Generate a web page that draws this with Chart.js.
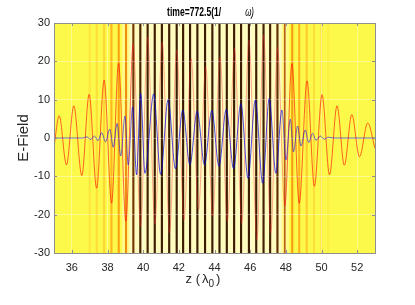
<!DOCTYPE html>
<html>
<head>
<meta charset="utf-8">
<script src="https://cdn.jsdelivr.net/npm/chart.js@4"></script>
<style>
  html, body { margin: 0; padding: 0; background: #fff; }
  #wrap { width: 415px; height: 305px; }
</style>
</head>
<body>
<div id="wrap"><canvas id="chart" width="415" height="305"></canvas></div>
<script>
// axis ticks
const xTicks = [36, 38, 40, 42, 44, 46, 48, 50, 52]
const yTicks = [-30, -20, -10, 0, 10, 20, 30]

// red field: extrema
const redX = [35.00, 35.29, 35.70, 36.11, 36.56, 36.97, 37.39, 37.81, 38.23, 38.62,
  39.03, 39.44, 39.86, 40.25, 40.66, 41.07, 41.48, 41.88, 42.29, 42.69,
  43.10, 43.51, 43.90, 44.31, 44.72, 45.12, 45.53, 45.93, 46.38, 46.75,
  47.16, 47.53, 47.94, 48.34, 48.75, 49.19, 49.60, 50.03, 50.45, 50.87,
  51.28, 51.70, 52.13, 52.59, 53.00]
const redY = [-2.3, 5.8, -7.0, 8.4, -9.8, 11.4, -13.1, 15.1, -17.0, 19.5,
  -21.7, 24.5, -23.0, 26.3, -22.5, 25.0, -24.7, 22.9, -21.3, 20.7,
  -18.7, 18.5, -20.4, 21.1, -21.7, 23.4, -22.2, 25.5, -26.5, 26.8,
  -24.7, 23.7, -17.8, 19.4, -17.0, 14.9, -12.6, 11.3, -9.6, 8.4,
  -7.1, 6.1, -4.9, 3.9, -2.7]

// blue field
const blueX = [35.00, 36.60, 36.85, 37.05, 37.27, 37.47, 37.67, 37.89, 38.13, 38.32,
  38.54, 38.74, 38.98, 39.16, 39.41, 39.63, 39.86, 40.10, 40.59, 40.98,
  41.40, 41.81, 42.22, 42.62, 43.03, 43.44, 43.85, 44.25, 44.66, 45.07,
  45.48, 45.88, 46.29, 46.70, 47.07, 47.44, 47.78, 48.01, 48.25, 48.43,
  48.66, 48.85, 49.09, 49.28, 49.50, 49.69, 49.93, 50.16, 50.38, 50.70, 53.00]
const blueY = [0, 0, 0.3, -0.4, 0.5, -0.7, 1.4, -1.0, 2.3, -2.4,
  3.8, -4.7, 5.7, -7.0, 8.1, -9.6, 11.6, -9.2, 11.5, -9.5,
  10.0, -8.0, 7.3, -7.0, 7.0, -7.0, 7.2, -7.4, 7.5, -8.0,
  9.0, -10.5, 9.9, -11.8, 10.3, -9.2, 7.3, -5.7, 4.9, -3.6,
  3.1, -2.1, 2.1, -1.2, 1.2, -0.6, 0.5, -0.3, 0.2, 0, 0]

// background density: bands (start, end, level 0..1)
const bandStart = [35.0, 38.85, 39.25, 47.75, 48.15]
const bandEnd = [38.85, 39.25, 47.75, 48.15, 53.0]
const bandLevel = [0.78, 0.86, 0.97, 0.86, 0.78]

// density minima (stripes): centre and level
const stripeX = [37.00, 37.40, 37.81, 38.22, 38.63, 39.04, 39.45, 39.84, 40.25, 40.65,
  41.05, 41.46, 41.88, 42.24, 42.63, 43.04, 43.47, 43.88, 44.28, 44.69,
  45.10, 45.49, 45.93, 46.34, 46.75, 47.12, 47.53, 47.95, 48.36, 48.75,
  49.17, 49.58, 49.99, 50.38]
const stripeLevel = [0.74, 0.72, 0.70, 0.63, 0.58, 0.52, 0.24, 0.10, 0.08, 0.07,
  0.07, 0.07, 0.06, 0.06, 0.06, 0.06, 0.06, 0.06, 0.06, 0.06,
  0.07, 0.07, 0.07, 0.07, 0.08, 0.10, 0.18, 0.38, 0.56, 0.62,
  0.68, 0.72, 0.74, 0.76]

const stops = [
  [0.00, [40, 18, 0]],
  [0.25, [120, 55, 5]],
  [0.45, [225, 120, 10]],
  [0.60, [255, 170, 20]],
  [0.78, [252, 249, 75]],
  [0.88, [254, 251, 150]],
  [1.00, [255, 252, 205]]
]
function levelColor(v) {
  for (let i = 1; i < stops.length; i++) {
    if (v <= stops[i][0]) {
      const [a, ca] = stops[i - 1]
      const [b, cb] = stops[i]
      const t = (v - a) / (b - a)
      const c = ca.map((k, j) => Math.round(k + (cb[j] - k) * t))
      return 'rgb(' + c.join(',') + ')'
    }
  }
  return 'rgb(255,252,205)'
}

const SANS = "'Liberation Sans', Arial, sans-serif"
const STRIPE_W = 0.12
const inPlasma = x => x > bandStart[2] && x < bandEnd[2]

// density stripes under the grid
const densityPlugin = {
  id: 'density',
  beforeDraw(chart) {
    const { ctx, chartArea: a, scales: { x } } = chart
    ctx.save()
    ctx.beginPath()
    ctx.rect(a.left, a.top, a.right - a.left, a.bottom - a.top)
    ctx.clip()
    bandStart.forEach((s, i) => {
      const x0 = x.getPixelForValue(s)
      const x1 = x.getPixelForValue(bandEnd[i])
      ctx.fillStyle = levelColor(bandLevel[i])
      ctx.fillRect(x0, a.top, x1 - x0, a.bottom - a.top)
    })
    stripeX.forEach((c, i) => {
      const x0 = x.getPixelForValue(c - STRIPE_W / 2)
      const x1 = x.getPixelForValue(c + STRIPE_W / 2)
      ctx.fillStyle = levelColor(stripeLevel[i])
      ctx.fillRect(x0, a.top, x1 - x0, a.bottom - a.top)
    })
    ctx.restore()
  }
}

// box, inward ticks, title and x label
const framePlugin = {
  id: 'frame',
  afterDraw(chart) {
    const { ctx, chartArea: a, scales: { x, y } } = chart
    ctx.save()
    ctx.strokeStyle = '#8f8f8f'
    ctx.lineWidth = 1
    ctx.beginPath()
    x.ticks.forEach(t => {
      const px = Math.round(x.getPixelForValue(t.value)) + 0.5
      ctx.moveTo(px, a.top); ctx.lineTo(px, a.top + 3)
      ctx.moveTo(px, a.bottom); ctx.lineTo(px, a.bottom - 3)
    })
    y.ticks.forEach(t => {
      const py = Math.round(y.getPixelForValue(t.value)) + 0.5
      ctx.moveTo(a.left, py); ctx.lineTo(a.left + 3, py)
      ctx.moveTo(a.right, py); ctx.lineTo(a.right - 3, py)
    })
    ctx.stroke()
    ctx.strokeRect(Math.round(a.left) + 0.5, Math.round(a.top) + 0.5,
      Math.round(a.right - a.left), Math.round(a.bottom - a.top))

    // title, squeezed like the narrow font of the original
    const squeeze = 0.66
    ctx.fillStyle = '#000'
    ctx.textBaseline = 'middle'
    ctx.font = 'bold 13px ' + SANS
    const t1 = 'time=772.5(1/'
    const w1 = ctx.measureText(t1).width * squeeze
    ctx.font = 'italic 12px ' + SANS
    const w2 = ctx.measureText('ω)').width * squeeze
    const gap = 24
    const tx = (a.left + a.right) / 2 - (w1 + gap + w2) / 2 - 4
    ctx.save()
    ctx.translate(tx, 12.5)
    ctx.scale(squeeze, 1)
    ctx.font = 'bold 13px ' + SANS
    ctx.fillText(t1, 0, 0)
    ctx.font = 'italic 12px ' + SANS
    ctx.fillText('ω)', (w1 + gap) / squeeze, 0)
    ctx.restore()

    // z (lambda_0)
    ctx.fillStyle = '#262626'
    ctx.textBaseline = 'alphabetic'
    ctx.font = '13px ' + SANS
    const p1 = 'z (', p2 = 'λ', p4 = ')'
    const q1 = ctx.measureText(p1).width
    const q2 = ctx.measureText(p2).width
    const q4 = ctx.measureText(p4).width
    ctx.font = '10px ' + SANS
    const q3 = ctx.measureText('0').width
    const g = 2
    let cx = 203 - (q1 + g + q2 + q3 + g + q4) / 2
    const base = 283
    ctx.font = '13px ' + SANS
    ctx.fillText(p1, cx, base); cx += q1 + g
    ctx.fillText(p2, cx, base); cx += q2
    ctx.font = '10px ' + SANS
    ctx.fillText('0', cx, base + 4); cx += q3 + g
    ctx.font = '13px ' + SANS
    ctx.fillText(p4, cx, base)
    ctx.restore()
  }
}

const toPoints = (xs, ys) => xs.map((v, i) => ({ x: v, y: ys[i] }))

new Chart(document.getElementById('chart'), {
  type: 'line',
  data: {
    datasets: [
      {
        label: 'blue',
        data: toPoints(blueX, blueY),
        borderColor: 'rgba(0, 0, 255, 0.55)',
        borderWidth: 1,
        pointRadius: 0,
        cubicInterpolationMode: 'monotone',
        segment: {
          borderColor: c => inPlasma(c.p0.parsed.x) ? 'rgba(0, 0, 230, 0.7)' : undefined
        }
      },
      {
        label: 'red',
        data: toPoints(redX, redY),
        borderColor: 'rgba(255, 0, 0, 0.6)',
        borderWidth: 1,
        pointRadius: 0,
        cubicInterpolationMode: 'monotone',
        segment: {
          borderColor: c => inPlasma(c.p0.parsed.x) ? 'rgba(255, 40, 40, 0.4)' : undefined
        }
      }
    ]
  },
  options: {
    responsive: false,
    animation: false,
    devicePixelRatio: 1,
    layout: { padding: { left: 0, right: 40, top: 23, bottom: 0 } },
    plugins: {
      legend: { display: false },
      tooltip: { enabled: false },
      title: { display: false }
    },
    scales: {
      x: {
        type: 'linear',
        min: 35,
        max: 53,
        afterBuildTicks: s => { s.ticks = xTicks.map(v => ({ value: v })) },
        afterFit: s => { s.height = 52 },
        grid: { color: 'rgba(255,255,255,0.35)', drawTicks: false },
        border: { display: false },
        ticks: { color: '#262626', padding: 8, maxRotation: 0, font: { family: SANS, size: 11 } }
      },
      y: {
        type: 'linear',
        min: -30,
        max: 30,
        afterBuildTicks: s => { s.ticks = yTicks.map(v => ({ value: v })) },
        afterFit: s => { s.width = 54 },
        grid: { color: 'rgba(255,255,255,0.35)', drawTicks: false },
        border: { display: false },
        ticks: { color: '#262626', padding: 4, font: { family: SANS, size: 11 } },
        title: {
          display: true,
          text: 'E-Field',
          color: '#262626',
          font: { family: SANS, size: 15 },
          padding: { top: 15, bottom: 0 }
        }
      }
    }
  },
  plugins: [densityPlugin, framePlugin]
})
</script>
</body>
</html>
